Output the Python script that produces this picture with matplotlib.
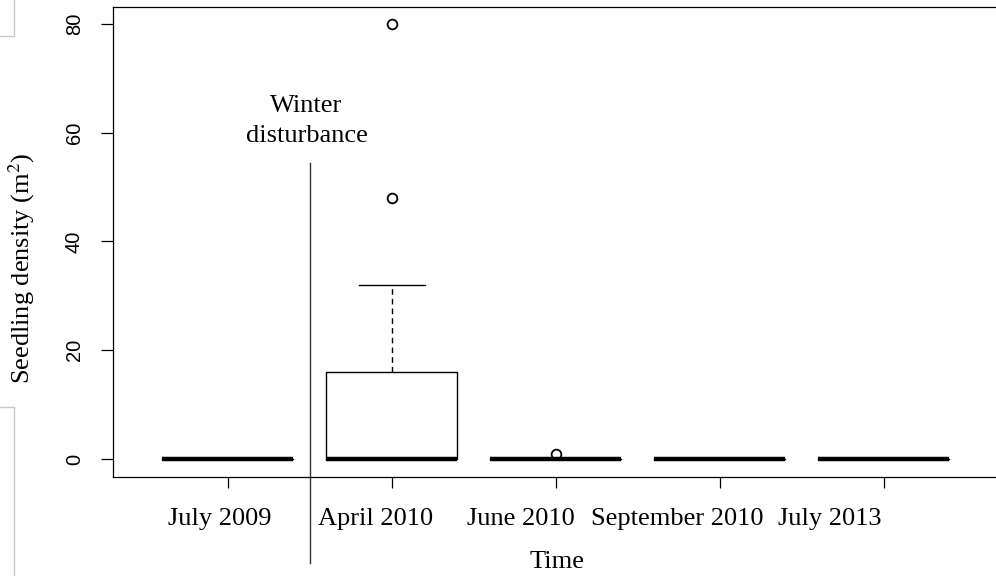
import matplotlib
matplotlib.use("Agg")
import matplotlib.pyplot as plt
from matplotlib.lines import Line2D

# ---- data (boxplot summaries) ----
times = ["July 2009", "April 2010", "June 2010", "September 2010", "July 2013"]
q1 = [0, 0, 0, 0, 0]
med = [0, 0, 0, 0, 0]
q3 = [0, 16, 0, 0, 0]
whis_lo = [0, 0, 0, 0, 0]
whis_hi = [0, 32, 0, 0, 0]
fliers = [[], [48, 80], [1], [], []]
disturbance_at = 1.5          # between July 2009 and April 2010
yticks = [0, 20, 40, 60, 80]

# tick labels in the original sit left of their ticks (data-unit offsets)
label_shift = [-0.05, -0.10, -0.21, -0.26, -0.33]

W, H = 996, 576
fig = plt.figure(figsize=(W / 100, H / 100), dpi=100)
ax = fig.add_axes([113 / W, (H - 477) / H, (1001 - 113) / W, (477 - 7) / H])

stats = [dict(q1=a, med=m, q3=b, whislo=lo, whishi=hi, fliers=f)
         for a, m, b, lo, hi, f in zip(q1, med, q3, whis_lo, whis_hi, fliers)]
pos = list(range(1, len(times) + 1))
ax.bxp(stats, positions=pos, widths=0.8, showfliers=True,
       boxprops=dict(color="black", lw=1.0),
       medianprops=dict(color="black", lw=3.2, solid_capstyle="butt"),
       whiskerprops=dict(color="black", lw=1.0, ls=(0, (4, 3))),
       capprops=dict(color="black", lw=1.0), capwidths=0.4,
       flierprops=dict(marker="o", markersize=7, markerfacecolor="none",
                       markeredgecolor="black", markeredgewidth=1.3))

ax.set_xlim(0.3, 5.715)
ax.set_ylim(-3.3, 83.1)
ax.spines["right"].set_visible(False)
for s in ["left", "bottom", "top"]:
    ax.spines[s].set_linewidth(0.9)

ax.set_yticks(yticks)
ax.set_yticklabels([str(v) for v in yticks], rotation=90, va="center",
                   fontsize=14.5, family="Liberation Sans")
ax.tick_params(axis="y", length=9, width=0.9, pad=12)
ax.set_xticks(pos)
ax.set_xticklabels([])
ax.tick_params(axis="x", length=8, width=0.9)

serif = "Liberation Serif"
fs = 19
for p, lab, dx in zip(pos, times, label_shift):
    ax.text(p + dx, -0.09, lab, transform=ax.get_xaxis_transform(),
            ha="center", va="center", fontsize=fs, family=serif)

fig.text(557 / W, 1 - 562 / H, "Time", ha="center", va="center",
         fontsize=fs, family=serif)
fig.text(22 / W, 1 - 268 / H, "Seedling density (m$^2$)", rotation=90,
         ha="center", va="center", fontsize=fs, family=serif,
         math_fontfamily="stix")

# winter disturbance marker
ax.plot([disturbance_at, disturbance_at], [54.4, -19.1], color="#333333",
        lw=1.0, clip_on=False)
ax.text(disturbance_at - 0.02, 62.2, "Winter\ndisturbance", ha="center",
        va="center", fontsize=fs, family=serif, linespacing=1.45)

# faint screenshot frame edges at the left border
g = "#c8c8c8"
fig.add_artist(Line2D([14 / W, 14 / W], [1, 1 - 36 / H], color=g, lw=1))
fig.add_artist(Line2D([0, 14 / W], [1 - 36 / H, 1 - 36 / H], color=g, lw=1))
fig.add_artist(Line2D([14 / W, 14 / W], [0, 1 - 407 / H], color=g, lw=1))
fig.add_artist(Line2D([0, 14 / W], [1 - 407 / H, 1 - 407 / H], color=g, lw=1))

fig.savefig("out.png", dpi=100)
